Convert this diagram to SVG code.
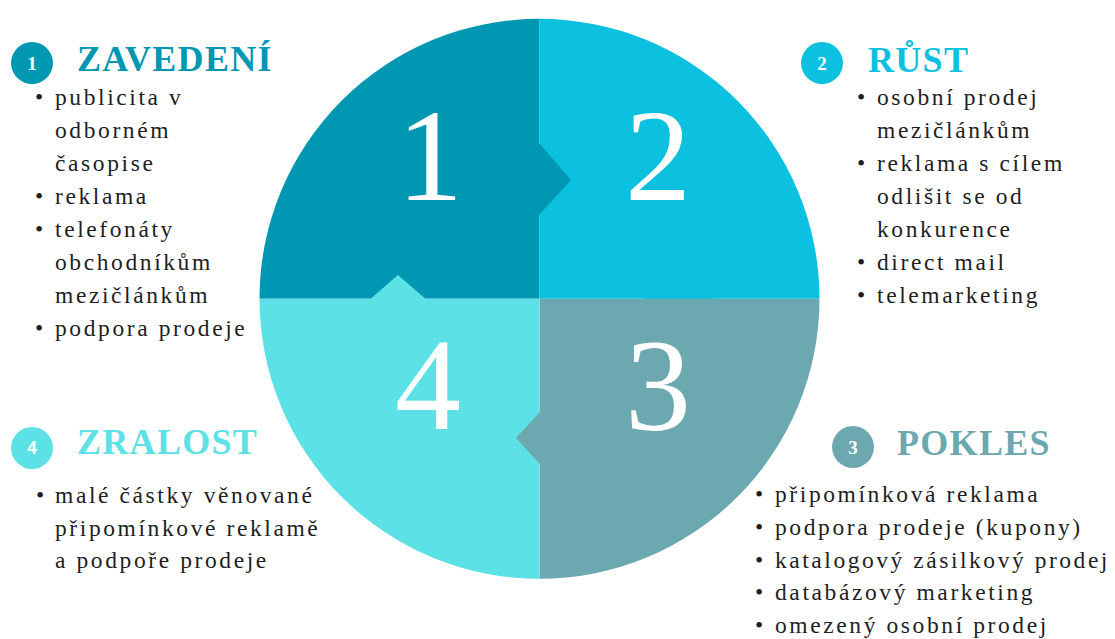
<svg xmlns="http://www.w3.org/2000/svg" width="1115" height="639" viewBox="0 0 1115 639">
  <style>
    .big { font-family: "Liberation Serif", "Times New Roman", serif; font-size: 132px; fill: #ffffff; text-anchor: middle; }
    .head { font-family: "Liberation Serif", "Times New Roman", serif; font-size: 36px; font-weight: bold; letter-spacing: 1.3px; }
    .badge-num { font-family: "Liberation Serif", "Times New Roman", serif; font-size: 19px; font-weight: bold; fill: #ffffff; text-anchor: middle; }
    .badge-sans { font-family: "Open Sans", "Liberation Sans", sans-serif; font-size: 17px; font-weight: bold; fill: #ffffff; text-anchor: middle; }
    .item { font-family: "Liberation Serif", "Times New Roman", serif; font-size: 23.5px; letter-spacing: 2.6px; fill: #1e1e1e; }
    .c1 { fill: #0097b2; }
    .c2 { fill: #0cc0df; }
    .c3 { fill: #6ca8b0; }
    .c4 { fill: #5ce1e6; }
  </style>

  <!-- four quarters of the cycle wheel, each with the tab it pushes into its neighbour -->
  <g id="wheel">
    <g id="q1">
      <path class="c1" d="M539.5,298.8 L259.5,298.8 A280,280 0 0 1 539.5,18.8 Z"/>
      <text class="big" x="430" y="200">1</text>
    </g>
    <g id="q2">
      <path class="c2" d="M539.5,298.8 L539.5,18.8 A280,280 0 0 1 819.5,298.8 Z"/>
      <polygon class="c2" points="643,298 678,329 713,298"/>
      <text class="big" x="658" y="200">2</text>
    </g>
    <g id="q3">
      <path class="c3" d="M539.5,298.8 L819.5,298.8 A280,280 0 0 1 539.5,578.8 Z"/>
      <text class="big" x="658" y="430">3</text>
    </g>
    <g id="q4">
      <path class="c4" d="M539.5,298.8 L539.5,578.8 A280,280 0 0 1 259.5,298.8 Z"/>
      <polygon class="c4" points="370,299.3 398,275 426,299.3"/>
      <text class="big" x="428" y="429">4</text>
    </g>
    <!-- tabs of quarters 1 and 3, drawn over their neighbours -->
    <polygon class="c1" points="539,143 571,180 539,215"/>
    <polygon class="c3" points="540,412 516,438 540,464"/>
  </g>

  <g id="connectors"></g>

  <!-- stage 1 -->
  <g id="stage1">
    <circle class="c1" cx="32" cy="63" r="21"/>
    <text class="badge-num" x="32" y="69.5">1</text>
    <text class="head c1" x="77" y="71">ZAVEDENÍ</text>
    <text class="item" x="35" y="104.5">•</text>
    <text class="item" x="55" y="104.5">publicita v</text>
    <text class="item" x="55" y="137.6">odborném</text>
    <text class="item" x="55" y="170.7">časopise</text>
    <text class="item" x="35" y="203.8">•</text>
    <text class="item" x="55" y="203.8">reklama</text>
    <text class="item" x="35" y="236.9">•</text>
    <text class="item" x="55" y="236.9">telefonáty</text>
    <text class="item" x="55" y="270">obchodníkům</text>
    <text class="item" x="55" y="303.1">mezičlánkům</text>
    <text class="item" x="35" y="336.2">•</text>
    <text class="item" x="55" y="336.2">podpora prodeje</text>
  </g>

  <!-- stage 2 -->
  <g id="stage2">
    <circle class="c2" cx="822" cy="63" r="21"/>
    <text class="badge-num" x="822" y="69.5">2</text>
    <text class="head c2" x="868" y="72">RŮST</text>
    <text class="item" x="857" y="104.5">•</text>
    <text class="item" x="877" y="104.5">osobní prodej</text>
    <text class="item" x="877" y="137.6">mezičlánkům</text>
    <text class="item" x="857" y="170.7">•</text>
    <text class="item" x="877" y="170.7">reklama s cílem</text>
    <text class="item" x="877" y="203.8">odlišit se od</text>
    <text class="item" x="877" y="236.9">konkurence</text>
    <text class="item" x="857" y="270">•</text>
    <text class="item" x="877" y="270">direct mail</text>
    <text class="item" x="857" y="303.1">•</text>
    <text class="item" x="877" y="303.1">telemarketing</text>
  </g>

  <!-- stage 3 -->
  <g id="stage3">
    <circle class="c3" cx="853" cy="447" r="21"/>
    <text class="badge-num" x="853" y="453.5">3</text>
    <text class="head c3" x="897" y="455">POKLES</text>
    <text class="item" x="755" y="502">•</text>
    <text class="item" x="775" y="502">připomínková reklama</text>
    <text class="item" x="755" y="535">•</text>
    <text class="item" x="775" y="535">podpora prodeje (kupony)</text>
    <text class="item" x="755" y="567.5">•</text>
    <text class="item" x="775" y="567.5" textLength="335" lengthAdjust="spacing">katalogový zásilkový prodej</text>
    <text class="item" x="755" y="600">•</text>
    <text class="item" x="775" y="600">databázový marketing</text>
    <text class="item" x="755" y="633">•</text>
    <text class="item" x="775" y="633">omezený osobní prodej</text>
  </g>

  <!-- stage 4 -->
  <g id="stage4">
    <circle class="c4" cx="32" cy="448" r="21"/>
    <text class="badge-sans" x="32" y="454">4</text>
    <text class="head c4" x="77" y="454">ZRALOST</text>
    <text class="item" x="36" y="503">•</text>
    <text class="item" x="55" y="503">malé částky věnované</text>
    <text class="item" x="55" y="536">připomínkové reklamě</text>
    <text class="item" x="55" y="568">a podpoře prodeje</text>
  </g>
</svg>
